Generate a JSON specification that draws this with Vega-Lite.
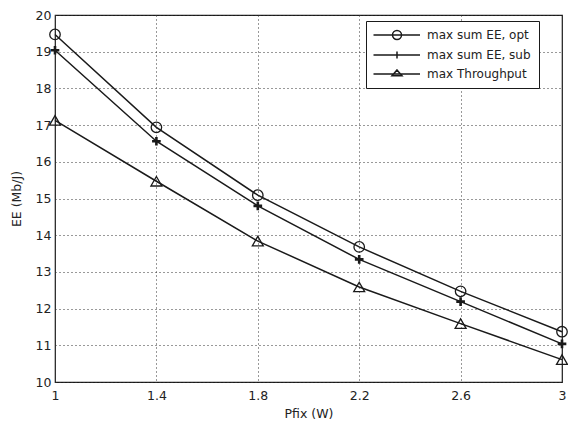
{
  "$schema": "https://vega.github.io/schema/vega-lite/v6.json",
  "width": 507,
  "height": 367,
  "autosize": {"type": "none"},
  "padding": {"left": 55, "top": 15, "right": 6, "bottom": 41},
  "background": "white",
  "config": {
    "font": "DejaVu Sans",
    "view": {"stroke": "#1a1a1a", "strokeWidth": 1.2},
    "axis": {
      "labelFont": "DejaVu Sans",
      "titleFont": "DejaVu Sans",
      "labelFontSize": 12.5,
      "titleFontSize": 12.5,
      "labelColor": "#222",
      "titleColor": "#222",
      "titleFontWeight": "normal",
      "domain": false,
      "ticks": false,
      "gridColor": "#333",
      "gridDash": [1, 3],
      "gridOpacity": 1,
      "gridWidth": 1
    },
    "legend": {
      "labelFont": "DejaVu Sans",
      "labelFontSize": 12,
      "labelColor": "#222"
    }
  },
  "data": {
    "values": [
      {"P": 1.0, "EE": 19.47, "series": "max sum EE, opt"},
      {"P": 1.4, "EE": 16.94, "series": "max sum EE, opt"},
      {"P": 1.8, "EE": 15.09, "series": "max sum EE, opt"},
      {"P": 2.2, "EE": 13.68, "series": "max sum EE, opt"},
      {"P": 2.6, "EE": 12.47, "series": "max sum EE, opt"},
      {"P": 3.0, "EE": 11.37, "series": "max sum EE, opt"},
      {"P": 1.0, "EE": 19.04, "series": "max sum EE, sub"},
      {"P": 1.4, "EE": 16.56, "series": "max sum EE, sub"},
      {"P": 1.8, "EE": 14.8, "series": "max sum EE, sub"},
      {"P": 2.2, "EE": 13.34, "series": "max sum EE, sub"},
      {"P": 2.6, "EE": 12.19, "series": "max sum EE, sub"},
      {"P": 3.0, "EE": 11.04, "series": "max sum EE, sub"},
      {"P": 1.0, "EE": 17.13, "series": "max Throughput"},
      {"P": 1.4, "EE": 15.47, "series": "max Throughput"},
      {"P": 1.8, "EE": 13.84, "series": "max Throughput"},
      {"P": 2.2, "EE": 12.59, "series": "max Throughput"},
      {"P": 2.6, "EE": 11.59, "series": "max Throughput"},
      {"P": 3.0, "EE": 10.61, "series": "max Throughput"}
    ]
  },
  "encoding": {
    "x": {
      "field": "P",
      "type": "quantitative",
      "scale": {"domain": [1, 3], "nice": false, "zero": false},
      "axis": {
        "values": [1, 1.4, 1.8, 2.2, 2.6, 3],
        "format": "~g",
        "title": "Pfix (W)",
        "labelPadding": 7,
        "titlePadding": 6,
        "labelFlush": false
      }
    },
    "y": {
      "field": "EE",
      "type": "quantitative",
      "scale": {"domain": [10, 20], "nice": false, "zero": false},
      "axis": {
        "values": [10, 11, 12, 13, 14, 15, 16, 17, 18, 19, 20],
        "title": "EE (Mb/J)",
        "labelPadding": 4,
        "titlePadding": 12,
        "labelFlush": false
      }
    }
  },
  "layer": [
    {
      "mark": {"type": "line", "color": "#1a1a1a", "strokeWidth": 1.5},
      "encoding": {"detail": {"field": "series"}}
    },
    {
      "transform": [{"filter": "datum.series == 'max sum EE, opt'"}],
      "mark": {"type": "point", "shape": "circle", "filled": false, "color": "#1a1a1a", "size": 110, "strokeWidth": 1.3, "opacity": 1}
    },
    {
      "transform": [{"filter": "datum.series == 'max sum EE, sub'"}],
      "mark": {"type": "point", "shape": "M-1,0H1M0,-1V1", "filled": false, "color": "#1a1a1a", "size": 75, "strokeWidth": 2.6, "opacity": 1}
    },
    {
      "transform": [{"filter": "datum.series == 'max Throughput'"}],
      "mark": {"type": "point", "shape": "triangle-up", "filled": false, "color": "#1a1a1a", "size": 120, "strokeWidth": 1.3, "opacity": 1}
    },
    {
      "transform": [{"filter": "datum.P > 100"}],
      "mark": {"type": "point", "filled": false, "color": "#1a1a1a", "size": 100, "opacity": 1},
      "encoding": {
        "shape": {
          "field": "series",
          "title": null,
          "scale": {
            "domain": ["max sum EE, opt", "max sum EE, sub", "max Throughput"],
            "range": [
              "M-1.3,0H8M2.5,0A0.9,0.9 0 1,1 4.3,0A0.9,0.9 0 1,1 2.5,0",
              "M-1.3,0H8M3.4,-0.7V0.7M2.9,0H3.9",
              "M-1.3,0H8M3.4,-0.8L4.4,0.35L2.4,0.35Z"
            ]
          },
          "legend": {
            "orient": "none",
            "legendX": 311,
            "legendY": 6,
            "strokeColor": "#1a1a1a",
            "fillColor": "white",
            "padding": 8,
            "labelOffset": 41,
            "rowPadding": 5,
            "symbolSize": 100,
            "symbolStrokeWidth": 1.5,
            "symbolStrokeColor": "#1a1a1a",
            "symbolFillColor": "transparent",
            "symbolOpacity": 1
          }
        }
      }
    }
  ]
}
